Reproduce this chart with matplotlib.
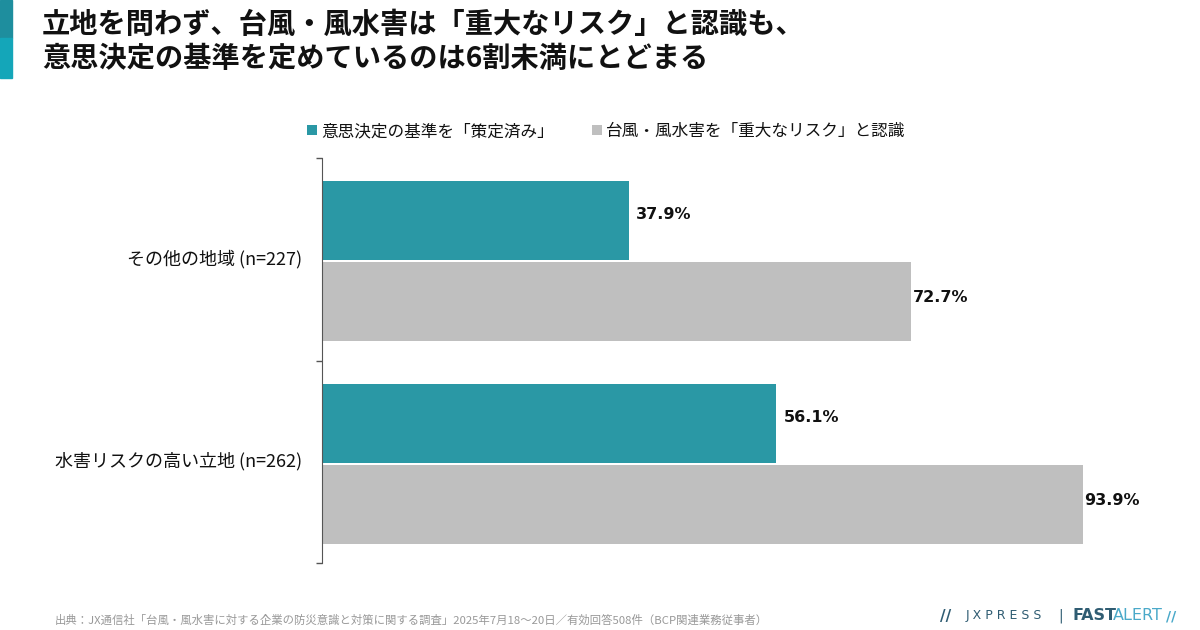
import matplotlib
matplotlib.use('Agg')
import matplotlib.pyplot as plt
import matplotlib.patches as patches
import numpy as np

plt.rcParams['font.family'] = ['Noto Sans CJK JP', 'DejaVu Sans']

# data
categories = ['その他の地域 (n=227)', '水害リスクの高い立地 (n=262)']
series_names = ['意思決定の基準を「策定済み」', '台風・風水害を「重大なリスク」と認識']
decided = [37.9, 56.1]
recognized = [72.7, 93.9]

title_lines = ['立地を問わず、台風・風水害は「重大なリスク」と認識も、',
               '意思決定の基準を定めているのは6割未満にとどまる']
source_text = ('出典：JX通信社「台風・風水害に対する企業の防災意識と対策に関する調査」'
               '2025年7月18～20日／有効回答508件（BCP関連業務従事者）')

teal = '#2a98a5'
grey = '#bfbfbf'

fig = plt.figure(figsize=(12, 6.3), dpi=100)

# left accent strip
fig.patches.append(patches.Rectangle((0, 1 - 38 / 630), 12 / 1200, 38 / 630,
                                     transform=fig.transFigure, color='#1e8e9e'))
fig.patches.append(patches.Rectangle((0, 1 - 78 / 630), 12 / 1200, 40 / 630,
                                     transform=fig.transFigure, color='#14a6b9'))

# title
fig.text(42 / 1200, 1 - 25 / 630, title_lines[0], fontsize=20.3, fontweight='bold',
         va='center', ha='left', color='#111111')
fig.text(42 / 1200, 1 - 59 / 630, title_lines[1], fontsize=20.3, fontweight='bold',
         va='center', ha='left', color='#111111')

ax = fig.add_axes([322 / 1200, 67 / 630, 810 / 1200, 405 / 630])

y = np.arange(len(categories))
h = 0.39
ax.barh(y - 0.19, decided, height=h, color=teal, label=series_names[0])
ax.barh(y + 0.21, recognized, height=h, color=grey, label=series_names[1])

for yi, v in zip(y, decided):
    ax.text(v + 0.9, yi - 0.22, f'{v}%', va='center', ha='left', fontsize=11.5,
            fontweight='bold', color='#111111', family='DejaVu Sans')
for yi, v in zip(y, recognized):
    ax.text(v + 0.2, yi + 0.19, f'{v}%', va='center', ha='left', fontsize=11.5,
            fontweight='bold', color='#111111', family='DejaVu Sans')

ax.set_xlim(0, 100)
ax.set_ylim(1.5, -0.5)
ax.set_yticks([-0.5, 0.5, 1.5])
ax.set_yticklabels([])
ax.set_yticks(y - 0.01, minor=True)
ax.set_yticklabels(categories, minor=True, fontsize=13, color='#111111')
ax.tick_params(axis='y', which='major', length=4, color='#555555', width=1)
ax.tick_params(axis='y', which='minor', length=0, pad=14)
ax.set_xticks([])
for s in ['top', 'right', 'bottom']:
    ax.spines[s].set_visible(False)
ax.spines['left'].set_color('#555555')

# legend drawn at top
leg = ax.legend(loc='lower left', bbox_to_anchor=(292 / 1200, 1 - 155 / 630),
                bbox_transform=fig.transFigure, ncol=2, frameon=False, fontsize=12,
                handlelength=0.6, handleheight=0.6, handletextpad=0.25, columnspacing=2.3)
for t in leg.get_texts():
    t.set_color('#111111')

# footer
fig.text(55 / 1200, 1 - 620 / 630, source_text, fontsize=8.2, color='#999999',
         va='center', ha='left')
fig.text(940 / 1200, 1 - 616 / 630, '//', fontsize=11, color='#2f5c72',
         va='center', ha='left', fontweight='bold', family='DejaVu Sans')
fig.text(966 / 1200, 1 - 616 / 630, 'J X P R E S S', fontsize=9, color='#2f5c72',
         va='center', ha='left', family='DejaVu Sans')
fig.text(1058 / 1200, 1 - 616 / 630, '|', fontsize=10, color='#2f5c72',
         va='center', ha='left', family='DejaVu Sans')
fig.text(1073 / 1200, 1 - 616 / 630, 'FAST', fontsize=11.5, color='#2f5c72',
         va='center', ha='left', fontweight='bold', family='DejaVu Sans')
fig.text(1113 / 1200, 1 - 616 / 630, 'ALERT', fontsize=11.5, color='#4aa9c9',
         va='center', ha='left', family='DejaVu Sans')
fig.text(1166 / 1200, 1 - 616 / 630, '//', fontsize=10, color='#4aa9c9',
         va='center', ha='left', fontweight='bold', family='DejaVu Sans')

plt.savefig('out.png', dpi=100)
plt.close()
